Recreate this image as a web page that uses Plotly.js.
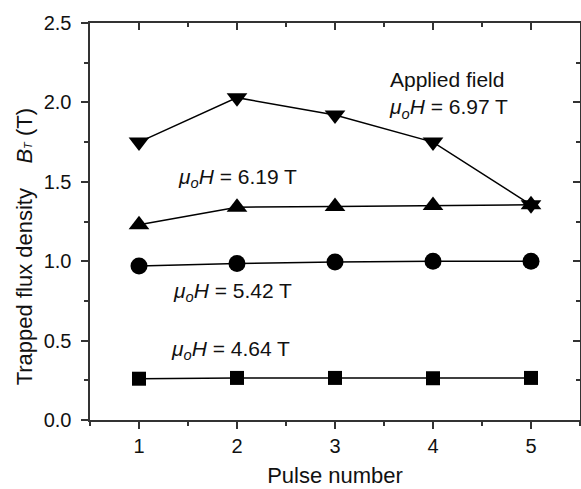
<!DOCTYPE html>
<html><head><meta charset="utf-8">
<script src="https://cdn.plot.ly/plotly-3.0.1.min.js"></script>
<style>body{margin:0;background:#fff}#c{width:581px;height:489px}</style>
</head><body><div id="c"></div>
<script>
var pulses = [1, 2, 3, 4, 5];
var b464 = [0.26, 0.265, 0.265, 0.263, 0.265];
var b542 = [0.97, 0.985, 0.995, 1.0, 1.0];
var b619 = [1.23, 1.34, 1.345, 1.35, 1.355];
var b697 = [1.75, 2.03, 1.92, 1.75, 1.355];
var fieldLabels = ["<i>μ<sub>o</sub>H</i> = 4.64 T", "<i>μ<sub>o</sub>H</i> = 5.42 T", "<i>μ<sub>o</sub>H</i> = 6.19 T", "Applied field<br><i>μ<sub>o</sub>H</i> = 6.97 T"];
var yTitle = 'Trapped flux density\u00a0\u00a0\u00a0 <i>B<span style="font-size:11px">T</span></i>\u00a0(T)';

function tr(y, sym, size){
  return {x: pulses, y: y, mode: 'lines+markers', type: 'scatter',
    line: {color: '#000', width: 1.5},
    marker: {symbol: sym, size: size, color: '#000'}, showlegend: false, hoverinfo: 'none'};
}
var fam = 'Liberation Sans, Arial, sans-serif';
var font = {family: fam, size: 20, color: '#111'};
var bigFont = {family: fam, size: 22, color: '#111'};
var annFont = {family: fam, size: 21, color: '#111'};
var data = [tr(b464, 'square', 14), tr(b542, 'circle', 17), tr(b619, 'triangle-up', 18), tr(b697, 'triangle-down', 18)];
var ax = {showgrid: false, zeroline: false, showline: true, linecolor: '#333', linewidth: 2, tickcolor: '#333', tickwidth: 2, ticklen: 7, ticks: 'outside'};
var layout = {
  width: 581, height: 489, paper_bgcolor: '#fff', plot_bgcolor: '#fff',
  margin: {l: 90, r: 1, t: 23, b: 69}, font: font,
  xaxis: Object.assign({}, ax, {range: [0.5, 5.5], dtick: 1, tick0: 1,
    minor: {dtick: 0.5, tick0: 0.5, ticks: 'outside', ticklen: 4, tickwidth: 2, tickcolor: '#333'},
    title: {text: 'Pulse number', font: bigFont, standoff: 12}}),
  yaxis: Object.assign({}, ax, {range: [0, 2.5], dtick: 0.5, tickformat: '.1f', ticksuffix: '\u00a0',
    minor: {dtick: 0.25, ticks: 'outside', ticklen: 4, tickwidth: 2, tickcolor: '#333'}}),
  xaxis2: Object.assign({}, ax, {overlaying: 'x', side: 'top', range: [0.5, 5.5], dtick: 1, tick0: 1, ticks: 'inside', showticklabels: false,
    minor: {dtick: 0.5, tick0: 0.5, ticks: 'inside', ticklen: 4, tickwidth: 2, tickcolor: '#333'}}),
  yaxis2: Object.assign({}, ax, {overlaying: 'y', side: 'right', range: [0, 2.5], dtick: 0.5, ticks: 'inside', showticklabels: false,
    minor: {dtick: 0.25, ticks: 'inside', ticklen: 4, tickwidth: 2, tickcolor: '#333'}}),
  annotations: [
    {x: -0.133, y: 0.437, xref: 'paper', yref: 'paper', text: yTitle, textangle: -90, showarrow: false, xanchor: 'center', yanchor: 'middle', font: bigFont},
    {x: 1.31, y: 0.44, xref: 'x', yref: 'y', text: fieldLabels[0], showarrow: false, xanchor: 'left', font: annFont},
    {x: 1.33, y: 0.806, xref: 'x', yref: 'y', text: fieldLabels[1], showarrow: false, xanchor: 'left', font: annFont},
    {x: 1.38, y: 1.524, xref: 'x', yref: 'y', text: fieldLabels[2], showarrow: false, xanchor: 'left', font: annFont},
    {x: 3.53, y: 2.047, xref: 'x', yref: 'y', text: fieldLabels[3], showarrow: false, xanchor: 'left', align: 'left', font: annFont}
  ]
};
data.push({x: [1], y: [0], xaxis: 'x2', yaxis: 'y2', mode: 'markers', marker: {opacity: 0}, showlegend: false, hoverinfo: 'none'});
Plotly.newPlot('c', data, layout, {displayModeBar: false, staticPlot: true});
</script></body></html>
